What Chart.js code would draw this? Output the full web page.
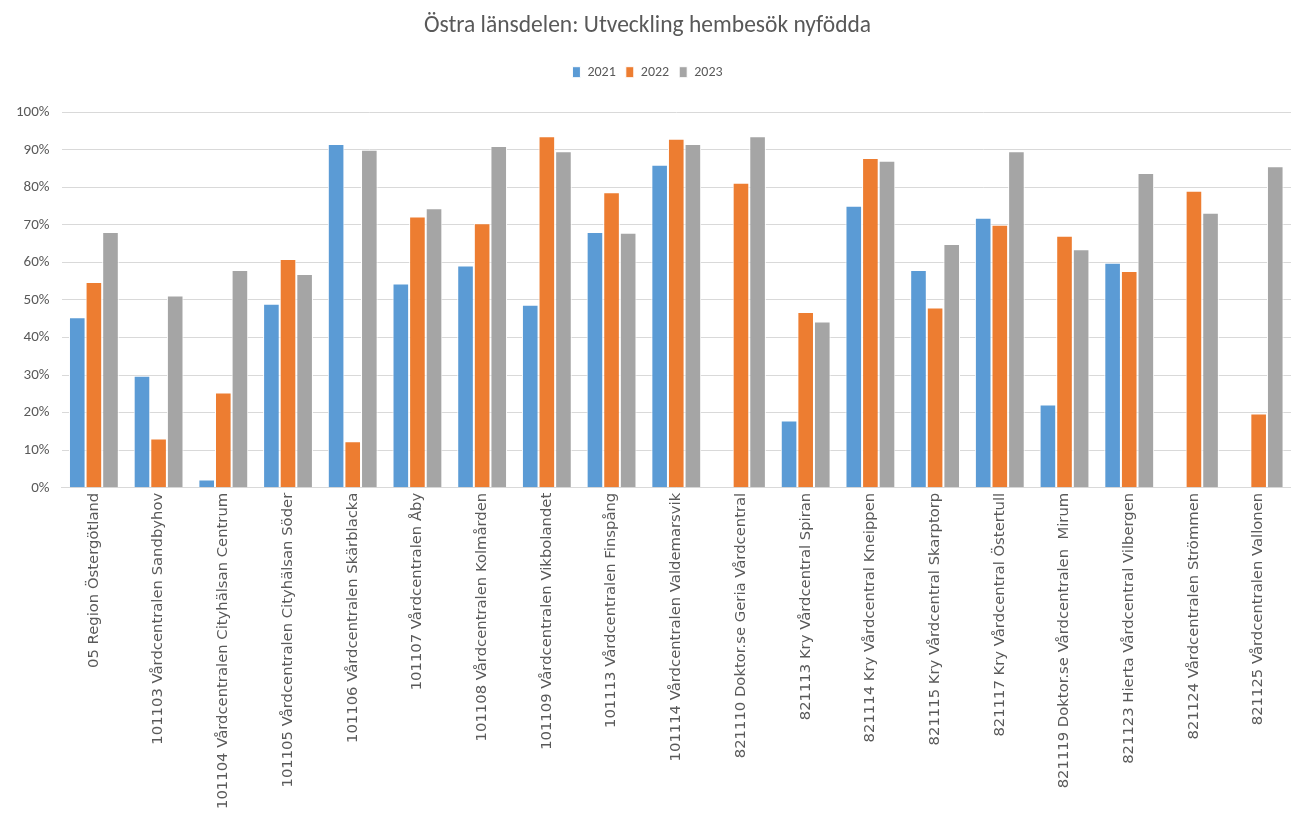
<!DOCTYPE html>
<html>
<head>
<meta charset="utf-8">
<script src="https://cdn.jsdelivr.net/npm/chart.js@4/dist/chart.umd.min.js"></script>
<style>
	html, body { margin: 0; padding: 0; background: #fff; }
	#wrap { position: relative; width: 1291px; height: 814px; }
</style>
</head>
<body>
<div id="wrap"><canvas id="mainChart"></canvas></div>
<script>
// Categories (vårdcentraler)
const categories = [
	'05 Region Östergötland',
	'101103 Vårdcentralen Sandbyhov',
	'101104 Vårdcentralen Cityhälsan Centrum',
	'101105 Vårdcentralen Cityhälsan Söder',
	'101106 Vårdcentralen Skärblacka',
	'101107 Vårdcentralen Åby',
	'101108 Vårdcentralen Kolmården',
	'101109 Vårdcentralen Vikbolandet',
	'101113 Vårdcentralen Finspång',
	'101114 Vårdcentralen Valdemarsvik',
	'821110 Doktor.se Geria Vårdcentral',
	'821113 Kry Vårdcentral Spiran',
	'821114 Kry Vårdcentral Kneippen',
	'821115 Kry Vårdcentral Skarptorp',
	'821117 Kry Vårdcentral Östertull',
	'821119 Doktor.se Vårdcentralen  Mirum',
	'821123 Hierta Vårdcentral Vilbergen',
	'821124 Vårdcentralen Strömmen',
	'821125 Vårdcentralen Vallonen'
];

// Andel (%) per år
const values2021 = [45.4, 29.8, 2.2, 49.0, 91.5, 54.4, 59.2, 48.7, 68.1, 86.0, null, 17.9, 75.1, 58.0, 71.9, 22.2, 59.9, null, null];
const values2022 = [54.8, 13.1, 25.4, 60.9, 12.4, 72.2, 70.4, 93.6, 78.7, 92.9, 81.2, 46.8, 87.8, 48.0, 70.0, 67.1, 57.7, 79.1, 19.8];
const values2023 = [68.1, 51.2, 58.0, 56.9, 90.0, 74.4, 91.0, 89.6, 67.9, 91.5, 93.6, 44.3, 87.1, 64.9, 89.6, 63.5, 83.8, 73.2, 85.6];

const seriesNames = ['2021', '2022', '2023'];
const seriesColors = ['#5B9BD5', '#ED7D31', '#A5A5A5'];

const narrowFont = "Carlito, 'Liberation Sans Narrow', 'Liberation Sans', sans-serif";
const textColor = '#595959';

// extra space under the legend, like the Excel original
const legendGap = {
	id: 'legendGap',
	beforeInit(chart) {
		const origFit = chart.legend.fit;
		chart.legend.fit = function() {
			origFit.call(this);
			this.height += 23;
		};
	}
};

const ctx = document.getElementById('mainChart');
ctx.chart = new Chart(ctx, {
	type: 'bar',
	data: {
		labels: categories,
		datasets: [values2021, values2022, values2023].map((vals, i) => ({
			label: seriesNames[i],
			data: vals,
			backgroundColor: seriesColors[i],
			borderColor: '#ffffff',
			borderWidth: 1,
			barPercentage: 1.0,
			categoryPercentage: 0.77
		}))
	},
	plugins: [legendGap],
	options: {
		responsive: true,
		maintainAspectRatio: false,
		animation: false,
		layout: {
			padding: { left: 4, right: 0, top: 8, bottom: 0 }
		},
		plugins: {
			title: {
				display: true,
				text: 'Östra länsdelen: Utveckling hembesök nyfödda',
				color: textColor,
				font: { family: narrowFont, size: 23.5, weight: 'normal' },
				padding: { top: 4, bottom: 15 }
			},
			legend: {
				position: 'top',
				labels: {
					color: textColor,
					font: { family: narrowFont, size: 14 },
					boxWidth: 8,
					boxHeight: 11,
					padding: 10
				}
			},
			tooltip: {
				callbacks: {
					label: function(context) {
						return context.dataset.label + ': ' + context.parsed.y + '%';
					}
				}
			}
		},
		scales: {
			x: {
				grid: { display: false, drawTicks: false },
				border: { color: '#d9d9d9' },
				ticks: {
					color: textColor,
					font: { family: "'DejaVu Sans', sans-serif", size: 14.8 },
					minRotation: 90,
					maxRotation: 90,
					autoSkip: false,
					padding: 5
				}
			},
			y: {
				min: 0,
				max: 100,
				grid: { color: '#d9d9d9', drawTicks: false },
				border: { display: false },
				ticks: {
					stepSize: 10,
					color: textColor,
					font: { family: narrowFont, size: 15 },
					padding: 12,
					callback: function(value) {
						return value + '%';
					}
				}
			}
		}
	}
});
</script>
</body>
</html>
